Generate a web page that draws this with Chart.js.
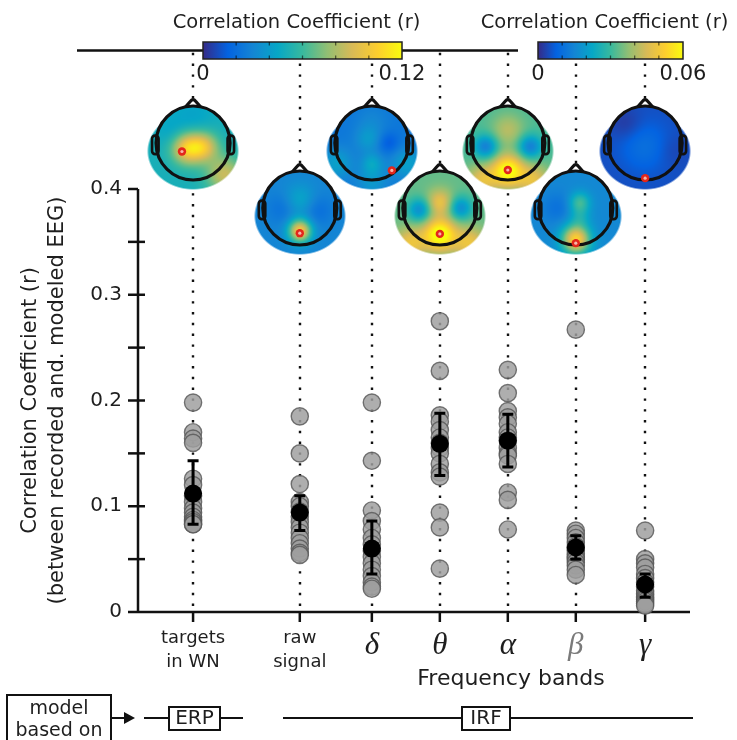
<!DOCTYPE html>
<html>
<head>
<meta charset="utf-8">
<title>Correlation per model</title>
<script src="https://cdn.jsdelivr.net/npm/chart.js@4.4.1/dist/chart.umd.min.js"></script>
<style>
html,body{margin:0;padding:0;background:#fff;}
canvas{display:block;}
</style>
</head>
<body>
<canvas id="graph" width="737" height="740"></canvas>
<script>

// columns along the x axis and where they sit on the linear scale
const categories=[["targets","in WN"],["raw","signal"],"δ","θ","α","β","γ"];
const xSlots=[0,1.57,2.63,3.63,4.63,5.63,6.65];

// single-subject correlations
const subjTargets=[0.198,0.170,0.164,0.160,0.126,0.120,0.110,0.104,0.098,0.094,0.090,0.087,0.085,0.083,0.083];
const subjRaw=[0.185,0.150,0.121,0.104,0.100,0.095,0.090,0.085,0.080,0.075,0.070,0.065,0.060,0.056,0.054];
const subjDelta=[0.198,0.143,0.096,0.086,0.078,0.070,0.064,0.058,0.052,0.046,0.040,0.034,0.028,0.024,0.022];
const subjTheta=[0.275,0.228,0.186,0.180,0.172,0.165,0.160,0.155,0.150,0.140,0.132,0.128,0.094,0.080,0.041];
const subjAlpha=[0.229,0.207,0.190,0.184,0.178,0.170,0.165,0.162,0.155,0.150,0.148,0.140,0.113,0.106,0.078];
const subjBeta=[0.267,0.077,0.074,0.070,0.066,0.062,0.060,0.058,0.055,0.052,0.050,0.047,0.044,0.040,0.035];
const subjGamma=[0.077,0.050,0.046,0.042,0.036,0.032,0.028,0.024,0.020,0.017,0.014,0.012,0.010,0.008,0.006];

// group mean and interval
const meanR=[0.112,0.094,0.060,0.159,0.162,0.061,0.026];
const ciLow=[0.083,0.077,0.036,0.129,0.137,0.050,0.014];
const ciHigh=[0.143,0.110,0.086,0.188,0.187,0.072,0.036];

const yTicks=[0,0.1,0.2,0.3,0.4];
const cbarLeftTicks=["0","0.12"];
const cbarRightTicks=["0","0.06"];
const cbarTitle="Correlation Coefficient (r)";
const yTitle=["Correlation Coefficient (r)","(between recorded and. modeled EEG)"];
const bandTitle="Frequency bands";
const modelLabel=["model","based on"];

const SANS='"DejaVu Sans", sans-serif';
const INK='#1e1e1e';

// parula colour map
const parulaHex=['#352a87','#0363e1','#1485d4','#06a7c6','#38b99e','#92bf73','#d9ba56','#fcce2e','#f9fb0e'];
const parulaRGB=parulaHex.map(h=>[parseInt(h.slice(1,3),16),parseInt(h.slice(3,5),16),parseInt(h.slice(5,7),16)]);
function parula(v){
v=Math.max(0,Math.min(1,v));
const p=v*(parulaRGB.length-1);
const i=Math.min(Math.floor(p),parulaRGB.length-2);
const t=p-i;
const a=parulaRGB[i],b=parulaRGB[i+1];
return [a[0]+(b[0]-a[0])*t,a[1]+(b[1]-a[1])*t,a[2]+(b[2]-a[2])*t];
}

// scalp maps: column, row (0 upper, 1 lower), base level, spots [dx,dy,amp,sigma] in head radii, electrode
const topoMaps=[
{col:0,row:0,base:0.42,spots:[[-0.15,0.15,0.42,0.3],[0.3,0.1,0.32,0.28],[0.85,0.85,0.3,0.35],[0,-0.7,-0.06,0.4],[-0.6,-0.3,-0.05,0.3]],elec:[-0.3,0.23]},
{col:1,row:1,base:0.25,spots:[[0,-0.2,0.14,0.3],[0,0.62,0.6,0.22],[-0.45,0,-0.08,0.3],[0.45,0.05,-0.09,0.3]],elec:[0,0.68]},
{col:2,row:0,base:0.2,spots:[[-0.1,-0.1,0.12,0.25],[0.45,0,-0.1,0.2],[0,0.55,0.15,0.2],[-0.95,0.55,0.15,0.3],[0.95,0.55,0.15,0.3],[0,1.05,0.12,0.3],[0,-0.6,0.05,0.3]],elec:[0.54,0.74]},
{col:3,row:1,base:0.56,spots:[[0,-0.15,0.25,0.25],[0,0.72,0.5,0.3],[-0.55,0.05,-0.28,0.22],[0.55,0,-0.28,0.22],[-0.8,0.95,0.25,0.3],[0.8,0.95,0.25,0.3]],elec:[0,0.7]},
{col:4,row:0,base:0.53,spots:[[0,-0.35,0.16,0.3],[0,0.75,0.5,0.3],[-0.6,0.1,-0.3,0.22],[0.6,0.1,-0.3,0.22],[-0.7,1,0.25,0.3],[0.7,1,0.25,0.3]],elec:[0,0.73]},
{col:5,row:1,base:0.26,spots:[[0.1,-0.15,0.25,0.2],[0.1,0.25,0.12,0.2],[0,0.85,0.62,0.27],[-0.5,0,-0.08,0.3]],elec:[0,0.95]},
{col:6,row:0,base:0.08,spots:[[0,0.1,0.09,0.45],[-0.5,-0.5,-0.05,0.3],[0.7,0.2,-0.03,0.3]],elec:[0,0.95]}
];

const subjectSeries=[subjTargets,subjRaw,subjDelta,subjTheta,subjAlpha,subjBeta,subjGamma];
const subjectPoints=subjectSeries.flatMap((vals,i)=>vals.map(v=>({x:xSlots[i],y:v})));
const meanPoints=meanR.map((v,i)=>({x:xSlots[i],y:v}));

function roundRectPath(ctx,x,y,w,h,r){
ctx.beginPath();
ctx.moveTo(x+r,y);
ctx.arcTo(x+w,y,x+w,y+h,r);
ctx.arcTo(x+w,y+h,x,y+h,r);
ctx.arcTo(x,y+h,x,y,r);
ctx.arcTo(x,y,x+w,y,r);
ctx.closePath();
}

function drawTopo(ctx,cx,cy,r,m){
const half=Math.ceil(r*1.4);
const size=half*2;
const off=document.createElement('canvas');
off.width=size;off.height=size;
const octx=off.getContext('2d');
const img=octx.createImageData(size,size);
for(let j=0;j<size;j++){
for(let i=0;i<size;i++){
const dx=(i+0.5-half)/r,dy=(j+0.5-half)/r;
const dc=(Math.hypot(dx,dy)-1)*r;
const de=(Math.hypot(dx/1.22,(dy-0.22)/1.03)-1)*r*1.1;
const d=Math.min(dc,de);
const a=Math.max(0,Math.min(1,0.5-d/1.8));
if(a<=0)continue;
let v=m.base;
for(const s of m.spots){
const ex=dx-s[0],ey=dy-s[1];
v+=s[2]*Math.exp(-(ex*ex+ey*ey)/(2*s[3]*s[3]));
}
const c=parula(v);
const k=(j*size+i)*4;
img.data[k]=c[0];img.data[k+1]=c[1];img.data[k+2]=c[2];img.data[k+3]=Math.round(a*255);
}
}
octx.putImageData(img,0,0);
ctx.drawImage(off,Math.round(cx-half),Math.round(cy-half));

ctx.save();
ctx.strokeStyle='#111';
ctx.lineWidth=3.2;
ctx.beginPath();ctx.arc(cx,cy,r,0,Math.PI*2);ctx.stroke();
// nose
ctx.lineJoin='round';
ctx.beginPath();
ctx.moveTo(cx-0.2*r,cy-0.98*r);
ctx.lineTo(cx-0.07*r,cy-1.13*r);
ctx.quadraticCurveTo(cx,cy-1.22*r,cx+0.07*r,cy-1.13*r);
ctx.lineTo(cx+0.2*r,cy-0.98*r);
ctx.stroke();
// ears
ctx.lineWidth=2.6;
roundRectPath(ctx,cx-r-4,cy-0.2*r,6.5,0.5*r,3);ctx.stroke();
roundRectPath(ctx,cx+r-2.5,cy-0.2*r,6.5,0.5*r,3);ctx.stroke();
// electrode
const ex=cx+m.elec[0]*r,ey=cy+m.elec[1]*r;
ctx.fillStyle='#e3261c';
ctx.beginPath();ctx.arc(ex,ey,4.2,0,Math.PI*2);ctx.fill();
ctx.fillStyle='#f6b5a8';
ctx.beginPath();ctx.arc(ex,ey,1.6,0,Math.PI*2);ctx.fill();
ctx.restore();
}

function drawColorbar(ctx,x0,x1,y0,y1,labels){
ctx.save();
const g=ctx.createLinearGradient(x0,0,x1,0);
parulaHex.forEach((h,i)=>g.addColorStop(i/(parulaHex.length-1),h));
ctx.fillStyle=g;
ctx.fillRect(x0,y0,x1-x0,y1-y0);
ctx.strokeStyle='#222';
ctx.lineWidth=1.5;
ctx.strokeRect(x0,y0,x1-x0,y1-y0);
ctx.strokeStyle='rgba(0,0,0,0.55)';
ctx.lineWidth=1.3;
for(let k=1;k<6;k++){
const x=x0+(x1-x0)*k/6;
ctx.beginPath();ctx.moveTo(x,y0);ctx.lineTo(x,y0+3.5);ctx.moveTo(x,y1);ctx.lineTo(x,y1-3.5);ctx.stroke();
}
ctx.fillStyle=INK;
ctx.font='21px '+SANS;
ctx.textAlign='center';
ctx.textBaseline='middle';
ctx.fillText(labels[0],x0,75);
ctx.fillText(labels[1],x1,75);
ctx.font='19.5px '+SANS;
ctx.textBaseline='alphabetic';
ctx.fillText(cbarTitle,(x0+x1)/2-6,28);
ctx.restore();
}

const decor={
id:'decor',
beforeDatasetsDraw(chart){
const ctx=chart.ctx,xs=chart.scales.x,ys=chart.scales.y,area=chart.chartArea;

// dotted guides from the axis up to the colour bars
ctx.save();
ctx.strokeStyle='#111';
ctx.lineWidth=2.4;
ctx.setLineDash([2.4,8.4]);
xSlots.forEach(v=>{
const px=Math.round(xs.getPixelForValue(v));
ctx.beginPath();ctx.moveTo(px,area.bottom-6);ctx.lineTo(px,52);ctx.stroke();
});
ctx.restore();

// axes with ticks crossing the y axis
ctx.save();
ctx.strokeStyle='#111';
ctx.lineWidth=2.5;
const yTop=ys.getPixelForValue(yTicks[yTicks.length-1]);
ctx.beginPath();
ctx.moveTo(area.left,yTop);ctx.lineTo(area.left,area.bottom);
ctx.moveTo(area.left-10,area.bottom);ctx.lineTo(area.right,area.bottom);
ctx.stroke();
const marks=[];
yTicks.forEach((v,i)=>{marks.push(v);if(i<yTicks.length-1)marks.push((v+yTicks[i+1])/2);});
marks.forEach(v=>{
if(v===0)return;
const py=ys.getPixelForValue(v);
ctx.beginPath();
ctx.moveTo(area.left-10,py);
ctx.lineTo(v===yTicks[yTicks.length-1]?area.left:area.left+7,py);
ctx.stroke();
});
xSlots.forEach(v=>{
const px=xs.getPixelForValue(v);
ctx.beginPath();ctx.moveTo(px,area.bottom);ctx.lineTo(px,area.bottom+10);ctx.stroke();
});
ctx.restore();

// colour bars with the connector line behind them
ctx.save();
ctx.strokeStyle='#111';
ctx.lineWidth=2.5;
ctx.beginPath();ctx.moveTo(77,50.5);ctx.lineTo(518,50.5);ctx.stroke();
ctx.restore();
drawColorbar(ctx,203,402,42,59,cbarLeftTicks);
drawColorbar(ctx,538,683,42,59,cbarRightTicks);

// scalp maps, two staggered rows
topoMaps.forEach(m=>{
const cx=xs.getPixelForValue(xSlots[m.col]);
const cy=m.row===0?area.top-46:area.top+19;
drawTopo(ctx,cx,cy,37,m);
});
},
afterDatasetDraw(chart,args){
if(args.index!==0)return;
const ctx=chart.ctx,xs=chart.scales.x,ys=chart.scales.y;
ctx.save();
ctx.strokeStyle='#000';
ctx.lineWidth=3;
meanR.forEach((m,i)=>{
const px=xs.getPixelForValue(xSlots[i]);
const yl=ys.getPixelForValue(ciLow[i]),yh=ys.getPixelForValue(ciHigh[i]);
ctx.beginPath();
ctx.moveTo(px,yl);ctx.lineTo(px,yh);
ctx.moveTo(px-5.5,yl);ctx.lineTo(px+5.5,yl);
ctx.moveTo(px-5.5,yh);ctx.lineTo(px+5.5,yh);
ctx.stroke();
});
ctx.restore();
},
afterDraw(chart){
const ctx=chart.ctx;
ctx.save();
ctx.fillStyle=INK;
ctx.textAlign='center';
ctx.textBaseline='middle';
ctx.font='22px '+SANS;
ctx.fillText(bandTitle,511,679);

// model legend along the bottom
ctx.strokeStyle='#111';
ctx.lineWidth=2;
ctx.strokeRect(7,695,104,60);
ctx.font='19px '+SANS;
ctx.fillText(modelLabel[0],59,709);
ctx.fillText(modelLabel[1],59,731);
ctx.beginPath();ctx.moveTo(111,718);ctx.lineTo(126,718);ctx.stroke();
ctx.fillStyle='#111';
ctx.beginPath();ctx.moveTo(124,712);ctx.lineTo(135,718);ctx.lineTo(124,724);ctx.closePath();ctx.fill();

ctx.beginPath();
ctx.moveTo(144,718);ctx.lineTo(243,718);
ctx.moveTo(283,718);ctx.lineTo(693,718);
ctx.stroke();
ctx.fillStyle='#fff';
ctx.fillRect(169,707,51,23);
ctx.fillRect(462,707,48,23);
ctx.strokeRect(169,707,51,23);
ctx.strokeRect(462,707,48,23);
ctx.fillStyle=INK;
ctx.font='20px '+SANS;
ctx.fillText('ERP',194.5,719);
ctx.fillText('IRF',486,719);
ctx.restore();
}
};

let chart;

function initChart(){
const ctx=document.getElementById("graph");
chart=new Chart(ctx,{
type:'scatter',
data:{
datasets:[
{
label:"subjects",
data:subjectPoints,
backgroundColor:"rgba(158,158,158,0.84)",
borderColor:"rgba(85,85,85,0.8)",
borderWidth:1.4,
pointRadius:8.6,
order:1,
clip:false
},
{
label:"mean",
data:meanPoints,
backgroundColor:"#000",
borderColor:"#000",
borderWidth:0,
pointRadius:9,
order:0,
clip:false
}
]
},
options:{
responsive:false,
animation:false,
devicePixelRatio:1,
events:[],
layout:{padding:{top:189,right:47,left:0,bottom:0}},
plugins:{legend:{display:false},tooltip:{enabled:false}},
scales:{
x:{
type:'linear',min:-0.81,max:7.31,bounds:'data',
afterBuildTicks:s=>{s.ticks=xSlots.map(v=>({value:v}));},
afterFit:s=>{s.height=128;},
grid:{display:false,drawTicks:false},
border:{display:false},
ticks:{
autoSkip:false,maxRotation:0,minRotation:0,padding:15,
callback:(v,i)=>categories[i],
font:c=>c.index>=2?{family:'"Liberation Serif", serif',size:31,style:'italic',lineHeight:1.2}:{family:SANS,size:18,lineHeight:1.3},
color:c=>c.index===5?'#7a7a7a':INK
}
},
y:{
min:0,max:0.4,bounds:'data',
afterBuildTicks:s=>{s.ticks=yTicks.map(v=>({value:v}));},
afterFit:s=>{s.width=138;},
grid:{display:false,drawTicks:false},
border:{display:false},
ticks:{padding:16,font:{family:SANS,size:20},color:INK,callback:v=>v===0?'0':v.toFixed(1)},
title:{display:true,text:yTitle,font:{family:SANS,size:21,lineHeight:1.3},color:INK,padding:{top:17,bottom:0}}
}
}
},
plugins:[decor]
});
}

initChart();

</script>
</body>
</html>
